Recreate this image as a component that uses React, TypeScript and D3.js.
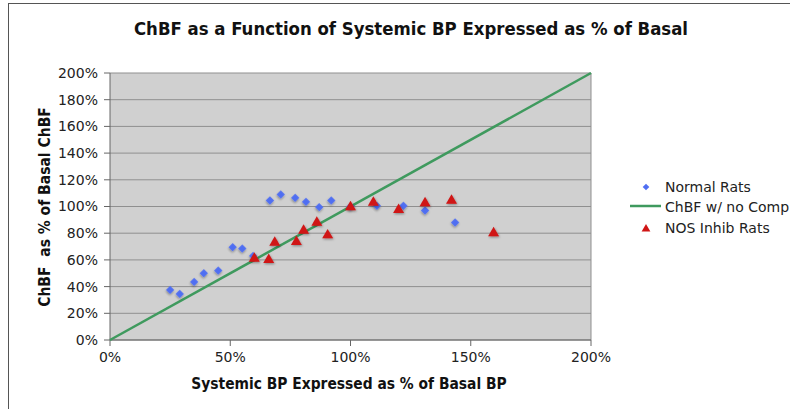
import React from "react";
import * as d3 from "d3";

// x = systemic BP (% of basal), y = ChBF (% of basal)
const normalX = [25, 29, 35, 39, 45, 51, 55, 59.5, 66.5, 71, 77, 81.5, 87, 92, 100, 111, 122, 131, 143.5];
const normalY = [37.5, 34.5, 43.5, 50, 52, 69.5, 68.5, 63, 104.5, 109, 106.5, 103.5, 99.5, 104.5, 100, 100.5, 100.5, 97, 88];

const nosX = [60, 66, 68.5, 77.5, 80.5, 86, 90.5, 100, 109.5, 120, 131, 142, 159.5];
const nosY = [61, 60, 73, 73.5, 82, 88, 78.5, 99.5, 103, 97.5, 102.5, 104.5, 80];

const identityLine = [0, 200];

const xTicks = [0, 50, 100, 150, 200];
const yTicks = [0, 20, 40, 60, 80, 100, 120, 140, 160, 180, 200];

const legendLabels = ["Normal Rats", "ChBF w/ no Comp", "NOS Inhib Rats"];

const W = 790;
const H = 409;
const plot = { left: 110, right: 591, top: 73, bottom: 340 };

const font = "'DejaVu Sans', Verdana, sans-serif";
const boldFont = "'DejaVu Sans Condensed', 'DejaVu Sans', sans-serif";

export default function App() {
  const x = d3.scaleLinear().domain([0, 200]).range([plot.left, plot.right]);
  const y = d3.scaleLinear().domain([0, 200]).range([plot.bottom, plot.top]);

  const line = d3
    .line<number>()
    .x((d) => x(d))
    .y((d) => y(d));

  // square turned 45° gives the Excel-style diamond
  const diamond = d3.symbol(d3.symbolSquare, 34)();
  const triangle = d3.symbol(d3.symbolTriangle, 52)();

  return (
    <svg
      width={W}
      height={H}
      style={{ position: "absolute", left: 0, top: 0, background: "#fff" }}
    >
      <defs>
        <filter id="shadow" x="-50%" y="-50%" width="200%" height="200%">
          <feDropShadow dx="0.8" dy="1.2" stdDeviation="0.8" floodColor="#000" floodOpacity="0.35" />
        </filter>
      </defs>

      {/* outer frame */}
      <rect x={8.5} y={3.5} width={W} height={H} fill="none" stroke="#555" strokeWidth={1} />

      <text
        x={411}
        y={35}
        textAnchor="middle"
        fontFamily={boldFont}
        fontWeight="bold"
        fontSize={18.4}
        fill="#111"
      >
        ChBF as a Function of Systemic BP Expressed as % of Basal
      </text>

      {/* plot background */}
      <rect
        x={plot.left}
        y={plot.top}
        width={plot.right - plot.left}
        height={plot.bottom - plot.top}
        fill="#d0d0d0"
      />

      {/* gridlines */}
      {yTicks.map((t) => (
        <line
          key={"g" + t}
          x1={plot.left}
          x2={plot.right}
          y1={y(t)}
          y2={y(t)}
          stroke="#8f8f8f"
          strokeWidth={1}
        />
      ))}
      <line x1={plot.right} x2={plot.right} y1={plot.top} y2={plot.bottom} stroke="#8f8f8f" />

      {/* axes */}
      <line x1={plot.left} x2={plot.left} y1={plot.top} y2={plot.bottom} stroke="#666" />
      <line x1={plot.left} x2={plot.right} y1={plot.bottom} y2={plot.bottom} stroke="#666" />

      {yTicks.map((t) => (
        <g key={"y" + t}>
          <line x1={plot.left - 6} x2={plot.left} y1={y(t)} y2={y(t)} stroke="#666" />
          <text
            x={98}
            y={y(t)}
            dy="0.35em"
            textAnchor="end"
            fontFamily={font}
            fontSize={14}
            fill="#222"
          >
            {t}%
          </text>
        </g>
      ))}
      {xTicks.map((t) => (
        <g key={"x" + t}>
          <line x1={x(t)} x2={x(t)} y1={plot.bottom} y2={plot.bottom + 6} stroke="#666" />
          <text
            x={x(t)}
            y={362}
            textAnchor="middle"
            fontFamily={font}
            fontSize={14}
            fill="#222"
          >
            {t}%
          </text>
        </g>
      ))}

      <text
        x={349}
        y={389}
        textAnchor="middle"
        fontFamily={boldFont}
        fontWeight="bold"
        fontSize={15.4}
        fill="#111"
      >
        Systemic BP Expressed as % of Basal BP
      </text>
      <text
        transform={`translate(50,207) rotate(-90)`}
        textAnchor="middle"
        fontFamily={boldFont}
        fontWeight="bold"
        fontSize={15.5}
        fill="#111"
        style={{ whiteSpace: "pre" }}
      >
        {"ChBF  as % of Basal ChBF"}
      </text>

      {/* identity line */}
      <path d={line(identityLine) || ""} fill="none" stroke="#3f9a5e" strokeWidth={2.5} />

      {/* normal rats */}
      {normalX.map((v, i) => (
        <path
          key={"n" + i}
          d={diamond || ""}
          transform={`translate(${x(v)},${y(normalY[i])}) rotate(45)`}
          fill="#4f6ef2"
          filter="url(#shadow)"
        />
      ))}

      {/* NOS inhib rats */}
      {nosX.map((v, i) => (
        <path
          key={"r" + i}
          d={triangle || ""}
          transform={`translate(${x(v)},${y(nosY[i])})`}
          fill="#d01515"
          filter="url(#shadow)"
        />
      ))}

      {/* legend */}
      <g fontFamily={font} fontSize={14} fill="#222">
        <path d={diamond || ""} transform="translate(646,187) rotate(45) scale(0.8)" fill="#4f6ef2" />
        <text x={665} y={187} dy="0.35em">
          {legendLabels[0]}
        </text>
        <line x1={630} x2={661} y1={206} y2={206} stroke="#3f9a5e" strokeWidth={2.5} />
        <text x={665} y={207} dy="0.35em">
          {legendLabels[1]}
        </text>
        <path d={triangle || ""} transform="translate(646,229) scale(0.8)" fill="#d01515" />
        <text x={665} y={228} dy="0.35em">
          {legendLabels[2]}
        </text>
      </g>
    </svg>
  );
}
